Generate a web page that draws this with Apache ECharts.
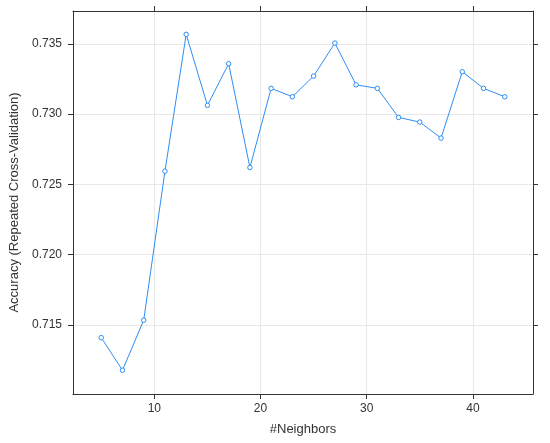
<!DOCTYPE html>
<html>
<head>
<meta charset="utf-8">
<script src="https://cdn.jsdelivr.net/npm/echarts@6/dist/echarts.min.js"></script>
<style>
  html, body { margin: 0; padding: 0; background: #fff; }
  #chart { width: 550px; height: 443px; }
</style>
</head>
<body>
<div id="chart"></div>
<script>
// number of neighbours (k) and repeated CV accuracy
var neighbors = [5, 7, 9, 11, 13, 15, 17, 19, 21, 23, 25, 27, 29, 31, 33, 35, 37, 39, 41, 43];
var accuracy = [0.71410, 0.71178, 0.71534, 0.72594, 0.73567, 0.73062, 0.73358, 0.72620,
                0.73183, 0.73123, 0.73270, 0.73505, 0.73208, 0.73183, 0.72976, 0.72943,
                0.72829, 0.73301, 0.73183, 0.73123];
var xTicks = [10, 20, 30, 40];
var yTicks = [0.715, 0.720, 0.725, 0.730, 0.735];

var chart = echarts.init(document.getElementById('chart'), null, { renderer: 'canvas' });

var font = 'Liberation Sans, Arial, sans-serif';
var frame = { show: true, onZero: false, lineStyle: { color: '#333', width: 1 } };
var grid = { show: true, lineStyle: { color: '#e8e8e8', width: 1 } };

function xAxis(pos, labels) {
  return {
    type: 'value', position: pos, min: 2.34, max: 45.66,
    axisLine: frame,
    axisTick: { show: true, inside: false, length: 5, lineStyle: { color: '#333' }, customValues: xTicks },
    axisLabel: { show: labels, customValues: xTicks, color: '#333', fontSize: 12, fontFamily: font, margin: 9 },
    splitLine: labels ? grid : { show: false },
    name: labels ? '#Neighbors' : '', nameLocation: 'middle', nameGap: 29,
    nameTextStyle: { color: '#333', fontSize: 13, fontFamily: font }
  };
}
function yAxis(pos, labels) {
  return {
    type: 'value', position: pos, min: 0.71009, max: 0.73733,
    axisLine: frame,
    axisTick: { show: true, inside: false, length: 5, lineStyle: { color: '#333' }, customValues: yTicks },
    axisLabel: { show: labels, customValues: yTicks, color: '#333', fontSize: 12, fontFamily: font, margin: 11,
                 formatter: function (v) { return v.toFixed(3); } },
    splitLine: labels ? grid : { show: false },
    name: labels ? 'Accuracy (Repeated Cross-Validation)' : '', nameLocation: 'middle', nameGap: 52,
    nameTextStyle: { color: '#333', fontSize: 13, fontFamily: font }
  };
}

var option = {
  backgroundColor: '#fff',
  animation: false,
  grid: { left: 73, right: 17, top: 11, bottom: 49 },
  xAxis: [xAxis('bottom', true), xAxis('top', false)],
  yAxis: [yAxis('left', true), yAxis('right', false)],
  series: [{
    type: 'line',
    xAxisIndex: 0, yAxisIndex: 0,
    data: neighbors.map(function (k, i) { return [k, accuracy[i]]; }),
    symbol: 'circle', symbolSize: 4.5,
    lineStyle: { color: '#2f8ef5', width: 1 },
    itemStyle: { color: '#ffffff', borderColor: '#2f8ef5', borderWidth: 1 }
  }]
};
chart.setOption(option);
</script>
</body>
</html>
